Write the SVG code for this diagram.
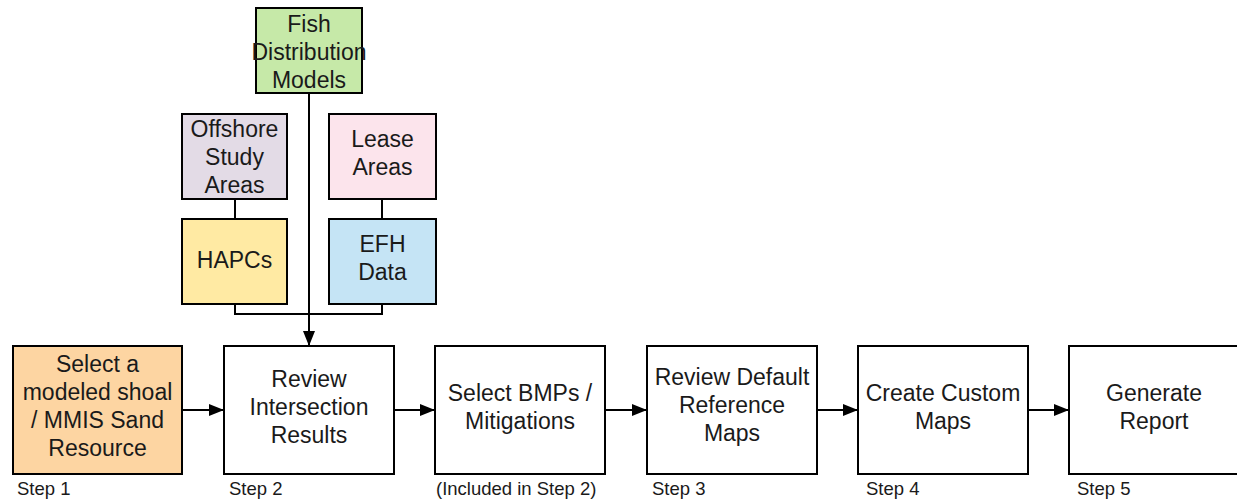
<svg xmlns="http://www.w3.org/2000/svg" width="1237" height="501" viewBox="0 0 1237 501">
<style>
.box{stroke:#000;stroke-width:2}
.t{font-family:"Liberation Sans",Arial,sans-serif;font-size:23px;fill:#1a1a1a;text-anchor:middle}
.s{font-family:"Liberation Sans",Arial,sans-serif;font-size:18.5px;fill:#1a1a1a}
.ln{fill:none;stroke:#000;stroke-width:2}
</style>
<defs>
<marker id="ah" viewBox="0 0 15 12" refX="15" refY="6" markerWidth="15" markerHeight="12" markerUnits="userSpaceOnUse" orient="auto">
<path d="M0,0 L15,6 L0,12 Z" fill="#000"/>
</marker>
</defs>
<rect width="1237" height="501" fill="#fff"/>
<g id="connectors">
<line class="ln" x1="235" y1="199" x2="235" y2="219"/>
<line class="ln" x1="382" y1="199" x2="382" y2="219"/>
<polyline class="ln" points="235,304 235,314 382,314 382,304"/>
<line class="ln" x1="309" y1="93" x2="309" y2="346" marker-end="url(#ah)"/>
<line class="ln" x1="182" y1="410" x2="224" y2="410" marker-end="url(#ah)"/>
<line class="ln" x1="394" y1="410" x2="435" y2="410" marker-end="url(#ah)"/>
<line class="ln" x1="605" y1="410" x2="647" y2="410" marker-end="url(#ah)"/>
<line class="ln" x1="817" y1="410" x2="858" y2="410" marker-end="url(#ah)"/>
<line class="ln" x1="1028" y1="410" x2="1069" y2="410" marker-end="url(#ah)"/>
</g>
<g id="fish">
<rect class="box" x="256" y="8" width="106" height="85" fill="#c6e9a8"/>
<text class="t" x="309" y="32">Fish</text>
<text class="t" x="309" y="60">Distribution</text>
<text class="t" x="309" y="88">Models</text>
</g>
<g id="offshore">
<rect class="box" x="182" y="114" width="105" height="85" fill="#e3dbe6"/>
<text class="t" x="234.5" y="137">Offshore</text>
<text class="t" x="234.5" y="165">Study</text>
<text class="t" x="234.5" y="193">Areas</text>
</g>
<g id="lease">
<rect class="box" x="329" y="114" width="107" height="85" fill="#fce4ec"/>
<text class="t" x="382.5" y="147">Lease</text>
<text class="t" x="382.5" y="175">Areas</text>
</g>
<g id="hapcs">
<rect class="box" x="182" y="219" width="105" height="85" fill="#ffeaa3"/>
<text class="t" x="234.5" y="268">HAPCs</text>
</g>
<g id="efh">
<rect class="box" x="329" y="219" width="107" height="85" fill="#c5e4f5"/>
<text class="t" x="382.5" y="252">EFH</text>
<text class="t" x="382.5" y="280">Data</text>
</g>
<g id="step1">
<rect class="box" x="13" y="346" width="169" height="128" fill="#fdd5a2"/>
<text class="t" x="97.5" y="372">Select a</text>
<text class="t" x="97.5" y="400">modeled shoal</text>
<text class="t" x="97.5" y="428">/ MMIS Sand</text>
<text class="t" x="97.5" y="456">Resource</text>
<text class="s" x="17" y="495">Step 1</text>
</g>
<g id="step2">
<rect class="box" x="224" y="346" width="170" height="128" fill="#fff"/>
<text class="t" x="309" y="387">Review</text>
<text class="t" x="309" y="415">Intersection</text>
<text class="t" x="309" y="443">Results</text>
<text class="s" x="229" y="495">Step 2</text>
</g>
<g id="bmps">
<rect class="box" x="435" y="346" width="170" height="128" fill="#fff"/>
<text class="t" x="520" y="401">Select BMPs /</text>
<text class="t" x="520" y="429">Mitigations</text>
<text class="s" x="436" y="495">(Included in Step 2)</text>
</g>
<g id="step3">
<rect class="box" x="647" y="346" width="170" height="128" fill="#fff"/>
<text class="t" x="732" y="385">Review Default</text>
<text class="t" x="732" y="413">Reference</text>
<text class="t" x="732" y="441">Maps</text>
<text class="s" x="652" y="495">Step 3</text>
</g>
<g id="step4">
<rect class="box" x="858" y="346" width="170" height="128" fill="#fff"/>
<text class="t" x="943" y="401">Create Custom</text>
<text class="t" x="943" y="429">Maps</text>
<text class="s" x="866" y="495">Step 4</text>
</g>
<g id="step5">
<rect class="box" x="1069" y="346" width="170" height="128" fill="#fff"/>
<text class="t" x="1154" y="401">Generate</text>
<text class="t" x="1154" y="429">Report</text>
<text class="s" x="1077" y="495">Step 5</text>
</g>
</svg>
